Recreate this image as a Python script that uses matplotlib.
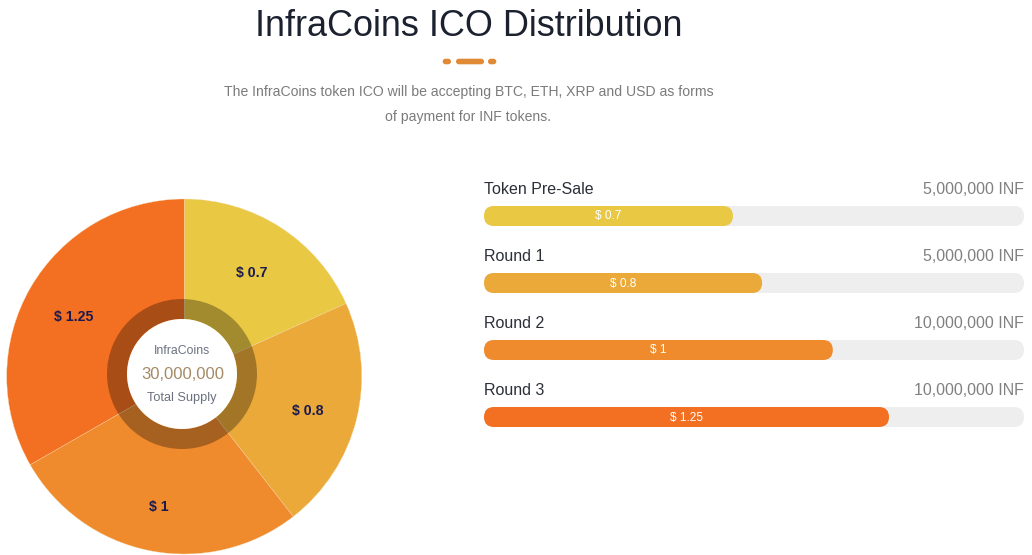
import matplotlib
matplotlib.use("Agg")
import matplotlib.pyplot as plt
from matplotlib.patches import Circle, FancyBboxPatch, Wedge

plt.rcParams['font.family'] = ['Liberation Sans', 'DejaVu Sans']

W, H = 1032, 555

# Data
rounds = ["Token Pre-Sale", "Round 1", "Round 2", "Round 3"]
price_labels = ["$ 0.7", "$ 0.8", "$ 1", "$ 1.25"]
slice_degrees = [65.7, 76.4, 98.1, 119.8]
tokens = ["5,000,000 INF", "5,000,000 INF", "10,000,000 INF", "10,000,000 INF"]
progress = [46.1, 51.5, 64.6, 75.0]
colors = ["#E9C843", "#EAA938", "#EF8A2D", "#F36F22"]

fig = plt.figure(figsize=(W / 100, H / 100), dpi=100)

# Page axes in pixel coordinates, y going down
ax = fig.add_axes([0, 0, 1, 1])
ax.set_xlim(0, W)
ax.set_ylim(H, 0)
ax.axis("off")

ax.text(468.5, 27, "InfraCoins ICO Distribution", fontsize=25.9, color="#1C2130",
        ha="center", va="center")

# Small divider under the title
for x0, x1 in [(442.7, 451), (456, 484), (488, 496.3)]:
    ax.add_patch(FancyBboxPatch((x0, 58.7), x1 - x0, 5.6, boxstyle="round,pad=0,rounding_size=2.8",
                                fc="#E08A36", ec="none"))

ax.text(468.5, 92, "The InfraCoins token ICO will be accepting BTC, ETH, XRP and USD as forms",
        fontsize=10.1, color="#7B7B7B", ha="center", va="center")
ax.text(468.5, 117, "of payment for INF tokens.",
        fontsize=10.1, color="#7B7B7B", ha="center", va="center")

# Progress bars on the right
track_x, track_w, bar_h = 484, 540, 20
for i, name in enumerate(rounds):
    top = 206 + 67 * i
    ax.add_patch(FancyBboxPatch((track_x, top), track_w, bar_h, boxstyle="round,pad=0,rounding_size=10",
                                fc="#EEEEEE", ec="none"))
    w = track_w * progress[i] / 100
    ax.add_patch(FancyBboxPatch((track_x, top), w, bar_h, boxstyle="round,pad=0,rounding_size=10",
                                fc=colors[i], ec="none"))
    ax.text(track_x + w / 2, top + 10.5, price_labels[i], fontsize=8.6, color="white",
            ha="center", va="center")
    ax.text(track_x, top - 16.6, name, fontsize=11.5, color="#2B2F38", ha="left", va="center")
    ax.text(track_x + track_w, top - 16.6, tokens[i], fontsize=11.5, color="#808080",
            ha="right", va="center")

# Pie
cx, cy, r = 184.2, 376.5, 177.5
pie_ax = fig.add_axes([(cx - r) / W, 1 - (cy + r) / H, 2 * r / W, 2 * r / H])
pie_ax.pie(slice_degrees, colors=colors, startangle=90, counterclock=False, radius=1,
           wedgeprops={"edgecolor": "#F6D9A8", "linewidth": 0.25})
pie_ax.set_xlim(-1, 1)
pie_ax.set_ylim(-1, 1)

# Centre ring, hole and labels, drawn in pixels on a top layer
top_ax = fig.add_axes([0, 0, 1, 1])
top_ax.set_xlim(0, W)
top_ax.set_ylim(H, 0)
top_ax.axis("off")
top_ax.patch.set_alpha(0)

label_xy = [(252, 273.5), (307.3, 411.5), (159.3, 506.5), (73.3, 317.5)]
for (lx, ly), lab in zip(label_xy, price_labels):
    top_ax.text(lx, ly, lab, fontsize=10.2, fontweight="bold", color="#1A1A50", ha="center", va="center")

ring_x, ring_y = 182, 374
top_ax.add_patch(Wedge((ring_x, ring_y), 75, 0, 360, width=20, fc="black", alpha=0.3, ec="none"))
top_ax.add_patch(Circle((ring_x, ring_y), 55, fc="white", ec="none"))
top_ax.text(ring_x, 351, "InfraCoins", fontsize=8.8, color="#6B7180", ha="center", va="center")
top_ax.text(ring_x + 0.5, 374.5, "30,000,000", fontsize=12, color="#A58A66", ha="center", va="center")
top_ax.text(ring_x, 398.5, "Total Supply", fontsize=9.2, color="#6B7180", ha="center", va="center")

fig.savefig("out.png", dpi=100)
